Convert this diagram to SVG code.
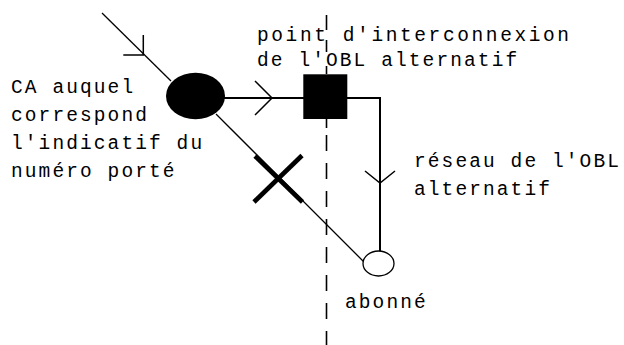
<svg xmlns="http://www.w3.org/2000/svg" width="624" height="345" viewBox="0 0 624 345">
  <style>
    .label { font-family: "Liberation Mono", "DejaVu Sans Mono", monospace; font-size: 19.5px; letter-spacing: 2.1px; fill: #000; }
    .thin { fill: none; stroke: #000; stroke-width: 1.3; }
    .wire { fill: none; stroke: #000; stroke-width: 2; }
    .chev { fill: none; stroke: #000; stroke-width: 1.5; }
  </style>
  <rect width="624" height="345" fill="#fff"/>

  <!-- operator boundary (dashed) -->
  <g id="frontiere">
    <path d="M326.5 15V30M326.5 40V52M326.5 66V74M326.5 119V128M326.5 135V151M326.5 163V179M326.5 191V207M326.5 219V235M326.5 247V263M326.5 275V291M326.5 303V319M326.5 331V345" fill="none" stroke="#000" stroke-width="1.6"/>
  </g>

  <!-- connectors -->
  <g id="connecteurs">
    <!-- incoming call -->
    <line class="thin" x1="102" y1="13" x2="171" y2="81"/>
    <path class="chev" d="M143.3 35V55H123.3"/>
    <!-- CA to interconnection point -->
    <line class="wire" x1="224" y1="98" x2="304" y2="98"/>
    <path class="chev" d="M255 81L272 98L255 115"/>
    <!-- alternative operator network -->
    <path class="wire" d="M346 98H380V251"/>
    <path class="chev" d="M365 171L380 183L395 171"/>
    <!-- direct (blocked) route -->
    <line class="thin" x1="216" y1="114" x2="364" y2="262"/>
  </g>

  <!-- blocked route mark -->
  <g id="blocage">
    <line x1="255" y1="156" x2="302.5" y2="202" stroke="#000" stroke-width="4.6"/>
    <line x1="302" y1="155.5" x2="254" y2="202" stroke="#000" stroke-width="4.6"/>
  </g>

  <g id="ca">
    <ellipse cx="195.5" cy="96" rx="29.5" ry="23.3" fill="#000"/>
    <text class="label" x="11" y="93">CA auquel</text>
    <text class="label" x="11" y="121">correspond</text>
    <text class="label" x="11" y="149">l'indicatif du</text>
    <text class="label" x="11" y="177">numéro porté</text>
  </g>

  <g id="point-interconnexion">
    <rect x="303.3" y="74.3" width="44" height="44.7" fill="#000"/>
    <text class="label" x="257" y="41" style="letter-spacing:2.6px">point d'interconnexion</text>
    <text class="label" x="257" y="66">de l'OBL alternatif</text>
  </g>

  <g id="reseau-obl">
    <text class="label" x="414" y="167">réseau de l'OBL</text>
    <text class="label" x="414" y="195">alternatif</text>
  </g>

  <g id="abonne">
    <ellipse cx="378.5" cy="263.5" rx="15.5" ry="12.5" fill="#fff" stroke="#000" stroke-width="1.3"/>
    <text class="label" x="345" y="308">abonné</text>
  </g>
</svg>
